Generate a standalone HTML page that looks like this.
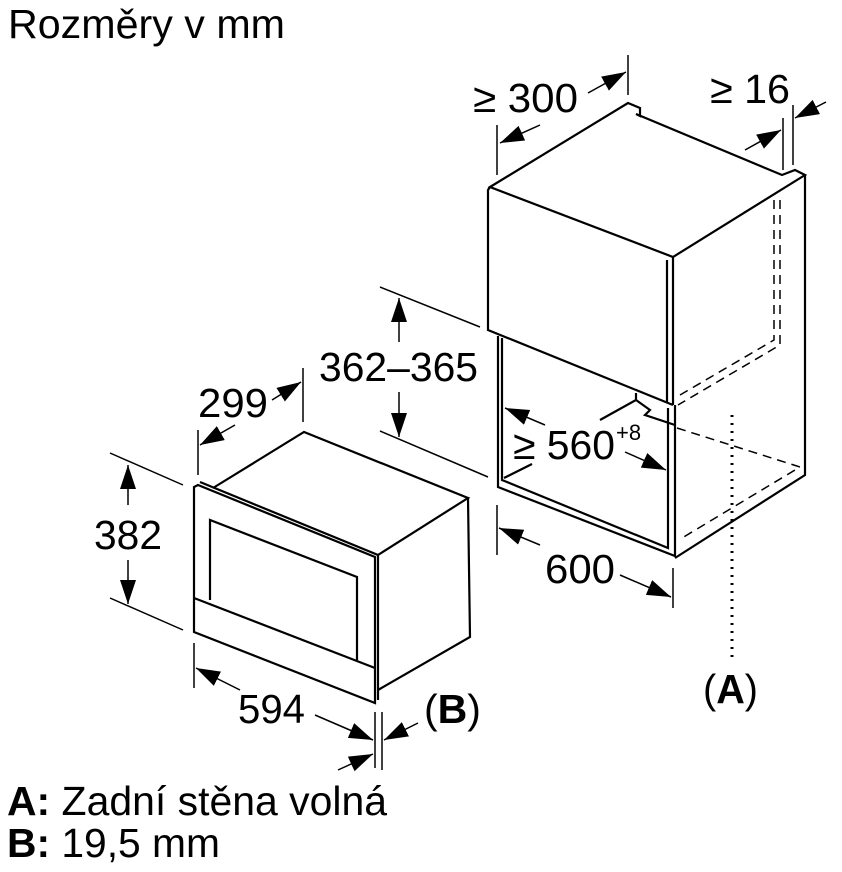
<!DOCTYPE html>
<html><head><meta charset="utf-8"><style>
html,body{margin:0;padding:0;background:#fff;width:842px;height:872px;overflow:hidden}
svg{display:block}
text{font-family:"Liberation Sans",sans-serif;fill:#000}
</style></head><body>
<svg width="842" height="872" viewBox="0 0 842 872" xmlns="http://www.w3.org/2000/svg">
<defs>
<marker id="a" markerUnits="userSpaceOnUse" markerWidth="26" markerHeight="18" refX="24" refY="8" orient="auto"><path d="M0,0 L24,8 L0,16 Z" fill="#000"/></marker>
</defs>
<g fill="none" stroke="#000" stroke-width="2.2" stroke-linejoin="miter">
<path d="M490,187 L628,103 L640,108 L640,116 L636,114 L782,175 L795,170 L805,175 L673,257 Z"/>
<path d="M490,187 L488,190 L488,330 L673,405"/>
<path d="M667,260 L667,402 M673,257 L673,405"/>
<path d="M805,175 L805,475 L675,558"/>
<path d="M498,336 L498,487 L675,556 L675,405 M502,338 L502,480 L668,548 L668,408"/>
<path d="M504,478 L532,464"/>
<path d="M600,420 L636,400 L636,393 M636,400 L650,410 L645,415 L675,425"/>
</g>
<g fill="none" stroke="#000" stroke-width="1.5" stroke-dasharray="9,6">
<path d="M774,200 L774,340 L680,395 M780,200 L780,345 L678,405"/>
<path d="M677,428 L800,467 L682,538"/>
</g>
<path d="M732,415 L732,662" stroke="#000" stroke-width="3" stroke-dasharray="2,6" fill="none"/>
<g fill="none" stroke="#000" stroke-width="2.2">
<path d="M198,485 L375,557 L375,703 L194,632 L194,487 Z"/>
<path d="M200,482 L378,555 L378,700"/>
<path d="M213,488 L304,432 L468,498 L378,555"/>
<path d="M468,498 L470,637 L378,690"/>
<path d="M210,600 L210,520 L357,577 L357,660"/>
<path d="M194,598 L375,668"/>
</g>
<g fill="none" stroke="#000" stroke-width="1.5">
<path d="M198,430 L198,475 M303,368 L303,422"/>
<path d="M235,425 L200,445" marker-end="url(#a)"/>
<path d="M272,400 L301,382" marker-end="url(#a)"/>
<path d="M110,453 L183,485 M110,598 L183,630"/>
<path d="M128,505 L128,465" marker-end="url(#a)"/>
<path d="M128,560 L128,604" marker-end="url(#a)"/>
<path d="M194,643 L194,688 M375,712 L375,768 M382,712 L382,770"/>
<path d="M240,690 L196,668" marker-end="url(#a)"/>
<path d="M315,715 L373,740" marker-end="url(#a)"/>
<path d="M418,723 L384,740" marker-end="url(#a)"/>
<path d="M338,770 L373,754" marker-end="url(#a)"/>
<path d="M380,287 L480,327 M380,431 L488,477"/>
<path d="M399,342 L399,298" marker-end="url(#a)"/>
<path d="M399,392 L399,437" marker-end="url(#a)"/>
<path d="M497,125 L497,175 M628,55 L628,95"/>
<path d="M540,125 L500,143" marker-end="url(#a)"/>
<path d="M588,93 L626,72" marker-end="url(#a)"/>
<path d="M783,118 L783,170 M793,105 L793,165"/>
<path d="M745,150 L781,130" marker-end="url(#a)"/>
<path d="M826,102 L795,118" marker-end="url(#a)"/>
<path d="M545,425 L505,408" marker-end="url(#a)"/>
<path d="M625,452 L666,470" marker-end="url(#a)"/>
<path d="M497,505 L497,555 M673,568 L673,608"/>
<path d="M540,545 L499,528" marker-end="url(#a)"/>
<path d="M620,575 L671,597" marker-end="url(#a)"/>
</g>
<g font-size="41">
<text x="8" y="38" textLength="277" lengthAdjust="spacingAndGlyphs">Rozměry v mm</text>
<text x="473" y="112" textLength="105" lengthAdjust="spacingAndGlyphs">≥ 300</text>
<text x="710" y="103" textLength="80" lengthAdjust="spacingAndGlyphs">≥ 16</text>
<text x="319" y="381" textLength="159" lengthAdjust="spacingAndGlyphs">362–365</text>
<text x="513" y="459" textLength="102" lengthAdjust="spacingAndGlyphs">≥ 560</text>
<text x="616" y="440" font-size="22">+8</text>
<text x="545" y="583" textLength="70" lengthAdjust="spacingAndGlyphs">600</text>
<text x="198" y="417" textLength="70" lengthAdjust="spacingAndGlyphs">299</text>
<text x="94" y="549" textLength="68" lengthAdjust="spacingAndGlyphs">382</text>
<text x="238" y="723" textLength="67" lengthAdjust="spacingAndGlyphs">594</text>
<text x="424" y="723" textLength="57" lengthAdjust="spacingAndGlyphs"><tspan>(</tspan><tspan font-weight="bold">B</tspan><tspan>)</tspan></text>
<text x="703" y="703" textLength="55" lengthAdjust="spacingAndGlyphs"><tspan>(</tspan><tspan font-weight="bold">A</tspan><tspan>)</tspan></text>
<text x="7" y="815" textLength="380" lengthAdjust="spacingAndGlyphs"><tspan font-weight="bold">A:</tspan> Zadní stěna volná</text>
<text x="7" y="857" textLength="213" lengthAdjust="spacingAndGlyphs"><tspan font-weight="bold">B:</tspan> 19,5 mm</text>
</g>
</svg>
</body></html>
